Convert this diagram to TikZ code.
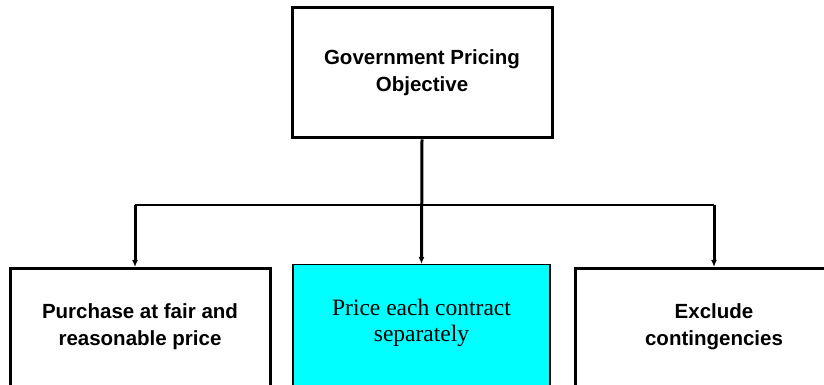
\documentclass[tikz,border=0pt]{standalone}
\usepackage{fontspec}
\setmainfont{Liberation Serif}
\setsansfont{Liberation Sans}
\usetikzlibrary{arrows.meta}
\definecolor{gpoCyan}{HTML}{00FFFF}
\tikzset{
  gpo box/.style={draw=black, line width=3pt, minimum width=260pt, align=center, font=\sffamily\bfseries\fontsize{20.5}{27}\selectfont},
  gpo leaf/.style={gpo box, anchor=north, inner ysep=0pt, text height=77pt, text depth=80pt},
  gpo pick/.style={fill=gpoCyan, line width=1.5pt, font=\rmfamily\fontsize{23.5}{26}\selectfont},
  gpo bus/.style={draw=black, line width=1.5pt},
  gpo drop/.style={draw=black, line width=3pt, -{Latex[length=7pt,width=6pt]}},
}

\begin{document}
\begin{tikzpicture}[x=1pt, y=1pt]
  \useasboundingbox (0,0) rectangle (824,385);
  \clip (0,0) rectangle (824,385);
  % Objective on top, three policies below
  \node[gpo box, minimum height=130pt] (gov) at (422,312) {Government Pricing\\Objective};
  \node[gpo leaf] (purchase) at (140,118) {Purchase at fair and\\reasonable price};
  \node[gpo leaf, gpo pick, minimum width=257pt] (price) at (421.5,121) {Price each contract\\separately};
  \node[gpo leaf, minimum width=278pt] (excl) at (714,118) {Exclude\\contingencies};
  % Bus line and drops
  \coordinate (bus) at (0,180);
  \draw[gpo drop] (gov.south) -- (price.north);
  \draw[gpo bus] ([xshift=-5pt]purchase.north |- bus) -- (excl.north |- bus);
  \draw[gpo drop] ([xshift=-5pt]purchase.north |- bus) -- ([xshift=-5pt]purchase.north);
  \draw[gpo drop] (excl.north |- bus) -- (excl.north);
\end{tikzpicture}
\end{document}
